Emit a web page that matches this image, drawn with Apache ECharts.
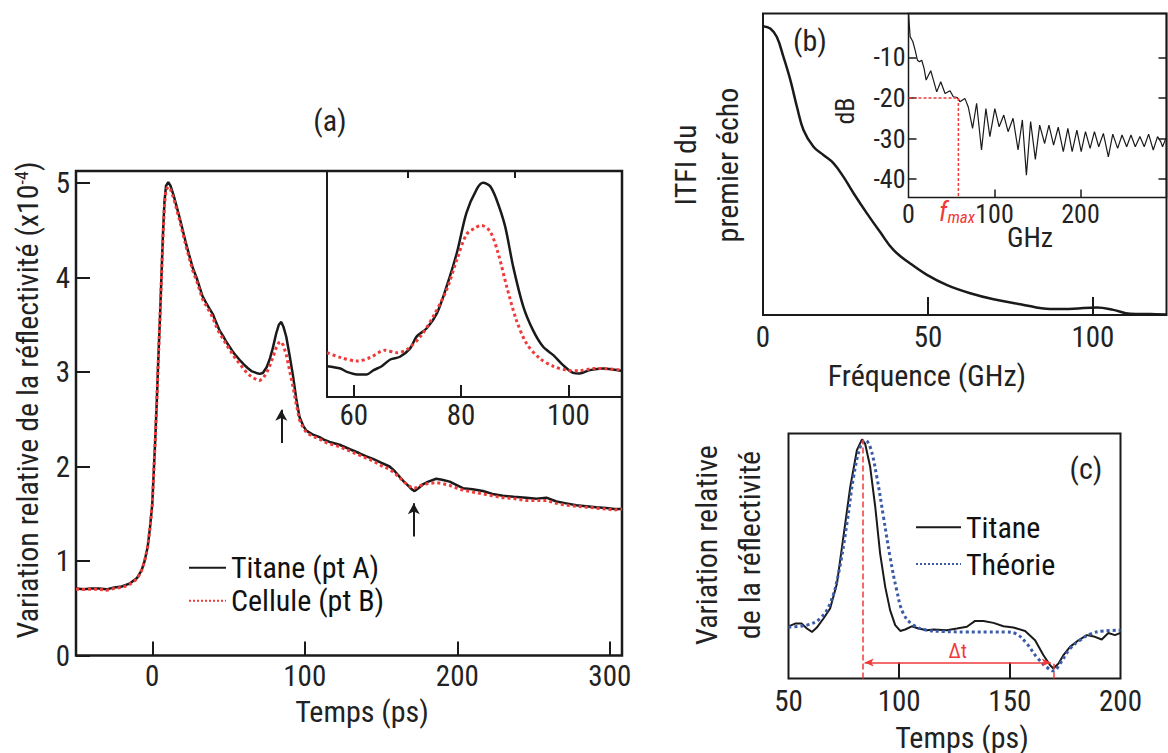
<!DOCTYPE html>
<html><head><meta charset="utf-8">
<script src="https://cdn.jsdelivr.net/npm/echarts@6/dist/echarts.min.js"></script>
<style>html,body{margin:0;padding:0;background:#fff}#chart{width:1168px;height:753px}</style>
</head><body><div id="chart"></div>
<script>
// ---------------- DATA ----------------
// (a) main: Temps (ps) vs variation relative de la réflectivité (x1e-4)
const aTime = [-50,-45,-40,-35,-30,-25,-20,-15,-10,-7,-5,-3,-1.5,0,1,2,3,4,5,6,7,8,9,10.5,12,14,16,18,20,22.3,24.5,26.6,29,31,33,35.4,37.5,39.8,42,44.1,46.5,48.5,51,53,55,57.2,60,62.7,65,68.2,70.5,72.5,75,76.9,79,81.3,83,84.6,86,87.9,90,92.2,94.4,96.6,99,101,105,109.7,113,116.3,122.8,130,135.9,140,144.7,150,155.6,159,162.2,165,167.6,170,172,174.5,177.4,181,186.2,190,195,200,203.7,210,216.8,223,229.9,237,245.2,252,258.4,265,271.5,278,284.6,291,297.7,303,308];
const aTitane = [0.71,0.70,0.71,0.71,0.70,0.72,0.73,0.76,0.82,0.90,1.00,1.15,1.35,1.60,1.95,2.30,2.70,3.15,3.55,4.00,4.45,4.80,4.97,5.01,4.97,4.87,4.75,4.63,4.50,4.35,4.22,4.10,4.00,3.90,3.80,3.73,3.67,3.61,3.52,3.44,3.38,3.32,3.26,3.21,3.17,3.13,3.08,3.04,3.01,2.99,2.98,2.99,3.05,3.13,3.25,3.41,3.50,3.53,3.48,3.37,3.18,2.97,2.72,2.52,2.43,2.38,2.34,2.31,2.28,2.26,2.23,2.18,2.14,2.11,2.08,2.04,2.00,1.95,1.89,1.84,1.80,1.76,1.74,1.77,1.81,1.84,1.87,1.86,1.84,1.80,1.77,1.76,1.74,1.71,1.69,1.68,1.67,1.66,1.67,1.63,1.61,1.59,1.58,1.57,1.56,1.55,1.55];
const aCellule = [0.70,0.70,0.70,0.70,0.69,0.71,0.72,0.75,0.81,0.90,1.00,1.15,1.35,1.60,1.95,2.30,2.70,3.15,3.55,3.98,4.42,4.76,4.93,4.96,4.93,4.84,4.72,4.60,4.47,4.32,4.19,4.07,3.97,3.87,3.77,3.70,3.64,3.57,3.48,3.41,3.35,3.29,3.23,3.18,3.13,3.09,3.03,2.98,2.95,2.92,2.91,2.93,2.99,3.06,3.15,3.26,3.31,3.32,3.28,3.18,3.02,2.85,2.66,2.49,2.41,2.36,2.32,2.29,2.26,2.24,2.21,2.16,2.12,2.09,2.06,2.01,1.97,1.93,1.88,1.84,1.80,1.78,1.77,1.79,1.81,1.82,1.83,1.82,1.80,1.77,1.75,1.73,1.71,1.69,1.67,1.66,1.64,1.64,1.64,1.61,1.59,1.58,1.57,1.56,1.55,1.54,1.55];
const aArrowTimes = [84.6, 171.5];
const aArrowFrom = [2.25, 1.26];
const aArrowTo = [2.60, 1.61];
const aXTicks = [0, 100, 200, 300];
const aYTicks = [0, 1, 2, 3, 4, 5];

// (a) inset: zoom on first echo (arbitrary units)
const insTimeTi = [55,57.5,58.7,60.6,62.4,63.7,65.2,66.8,68.6,70.5,71.7,73.6,75.5,77.3,79.2,81.0,82.9,84.1,85.4,86.6,88.2,89.7,91.6,93.4,95.3,97.2,99.0,100.9,102.1,104.0,106.5,108.3,110];
const insTitane  = [0.136,0.126,0.111,0.10,0.10,0.119,0.136,0.166,0.178,0.215,0.267,0.304,0.371,0.489,0.637,0.815,0.919,0.948,0.933,0.874,0.756,0.578,0.40,0.296,0.222,0.185,0.141,0.107,0.104,0.119,0.126,0.122,0.116];
const insTimeCe = [55,57.5,60.6,63.1,65.8,68.0,69.9,72.4,74.8,77.3,79.2,81.0,82.6,83.8,85.4,86.9,88.5,90.3,92.2,94.7,97.2,99.6,102.1,104.6,107.0,110];
const insCellule = [0.196,0.175,0.159,0.175,0.207,0.196,0.21,0.267,0.356,0.474,0.607,0.719,0.748,0.759,0.733,0.637,0.489,0.341,0.237,0.17,0.136,0.119,0.116,0.126,0.125,0.119];
const insLabelTicks = [60, 80, 100];
const insMinorTicks = [70, 90];

// (b) ITFI du premier écho vs Fréquence (GHz)
const bFreq = [0,2.2,4.2,6.2,8.3,10.3,12.3,15.3,18.4,21.4,24.4,27.5,31.5,35.5,39.6,44.6,49.7,55.8,62.8,69.9,78,87.1,94.1,101.2,106.2,111.3,117.4,122.4];
const bItfi = [0.958,0.95,0.922,0.856,0.779,0.69,0.613,0.558,0.53,0.503,0.458,0.403,0.337,0.275,0.215,0.171,0.133,0.099,0.072,0.052,0.036,0.02,0.021,0.025,0.017,0.004,0.003,0.002];
const bXTicks = [0, 50, 100];

// (b) inset: spectrum in dB
const dbFreq = [0,1.9,5,7.7,10.4,12.7,15.4,18.1,20.5,23.2,25.9,29,32.8,37.5,42.5,48.3,52.1,56.8,59.8,65.6,69.5,74.5,79.2,84.9,90,94.6,100.4,105.4,110.8,115.8,121.6,127.4,132.4,137.1,142,147.5,152.5,158.3,163.3,168.7,174.1,180,185.3,190.3,195.8,200.8,205.8,211.2,216.2,221.2,226.6,232.4,237.5,243.2,248.3,253.7,258.7,263.7,269.1,274.1,279.2,284.6,289.6,293.4,295.4,299.2];
const dbVal = [0.8,-4.9,-6.1,-8.2,-10.7,-11.1,-10.7,-12.7,-15.6,-14.4,-13.3,-15.6,-18.5,-16,-18.9,-18.2,-19.7,-19.9,-20.9,-20.1,-22.2,-27.5,-21.3,-32.8,-22.6,-29.5,-22.6,-27.1,-24.2,-28.3,-25,-32.8,-25.4,-39,-25.8,-35.1,-26.7,-31.2,-26.7,-31.6,-27.2,-33.2,-27.5,-33.2,-27.9,-33.2,-28.3,-32.4,-28.3,-32,-28.7,-34.5,-28.9,-32.4,-29.1,-32,-29.1,-32,-29.5,-32,-28.9,-32.8,-29.5,-30.8,-32,-30];
const fmaxFreq = 58;
const fmaxDb = -20;
const dbYTicks = [-40, -30, -20, -10];
const dbXLabels = [0, 100, 200];
const dbXTicks = [100, 200];

// (c) Titane vs Théorie
const cTimeTi = [50,53,56,58.3,60.6,62.8,65.8,68.8,71.9,74.8,77.9,80.9,83.2,84.6,86.9,89.2,91.4,93.7,95.9,98.2,100.5,102.7,105.7,108.7,112.5,115.5,121.5,126.1,130.6,134.3,138.1,142.6,147.1,151.6,156.9,161.4,165.2,168.2,169.7,172,174.2,177.2,181,184.8,188.5,191.5,194.5,197.5,200];
const cTitane = [0.213,0.224,0.224,0.204,0.19,0.208,0.245,0.286,0.388,0.578,0.782,0.932,0.976,0.959,0.864,0.7,0.51,0.374,0.279,0.218,0.194,0.2,0.213,0.204,0.197,0.2,0.197,0.204,0.211,0.235,0.235,0.227,0.213,0.208,0.194,0.156,0.095,0.054,0.041,0.061,0.095,0.129,0.156,0.177,0.17,0.159,0.186,0.177,0.186];
const cTimeTh = [50,58.3,64.3,68.8,72.6,76.4,79.4,82.4,84.6,86.9,89.9,92.9,95.9,98.9,101.9,106.4,112.5,120,130,140,148,153.1,157.6,162.1,166.6,169.7,172.7,177.2,181.7,186.2,192.2,200];
const cTheorie = [0.21,0.218,0.245,0.306,0.429,0.633,0.823,0.945,0.973,0.945,0.823,0.66,0.496,0.36,0.265,0.218,0.197,0.192,0.19,0.19,0.19,0.181,0.143,0.088,0.047,0.031,0.061,0.122,0.156,0.181,0.194,0.197];
const cEcho1 = 83.6, cEcho1Top = 0.976;
const cEcho2 = 169.7, cEcho2Top = 0.06;
const cArrowLevel = 0.065;
const cXLabels = [50, 100, 150, 200];
const cXTicks = [100, 150];

// ---------------- CHART ----------------
const FONT = "'Liberation Sans Narrow','Arial Narrow','Roboto Condensed',sans-serif";
const INK = '#1a1a1a';
const RED = '#f03a3a';
const BLUE = '#3b5aa8';
const zip = (xs, ys) => xs.map((x, i) => [x, ys[i]]);

function tickAxis(o) {
  return Object.assign({
    type: 'value', axisLine: {show: false, onZero: false}, splitLine: {show: false},
    axisTick: {show: true, inside: true, length: o.tickLen || 12, customValues: o.ticks, lineStyle: {color: INK, width: o.tickW || 2}},
    axisLabel: o.labels ? {show: true, customValues: o.labels, fontSize: o.fs || 29, fontFamily: FONT, color: '#222', margin: o.margin == null ? 6 : o.margin} : {show: false}
  }, o.base);
}

function txt(x, y, text, size, extra) {
  extra = extra || {};
  return {
    type: 'text', x: x, y: y, rotation: extra.rotation || 0, z: 100,
    style: Object.assign({
      text: text, fill: extra.fill || '#222', fontSize: size, fontFamily: FONT,
      fontStyle: extra.fontStyle || 'normal',
      textAlign: 'center', textVerticalAlign: 'middle', align: 'center', verticalAlign: 'middle',
      lineHeight: extra.lineHeight || size
    }, extra.style || {})
  };
}

function legendAt(name, left, top, w) {
  return {data: [name], left: left, top: top, padding: 0, itemWidth: w, itemHeight: 14,
    itemStyle: {opacity: 0}, selectedMode: false,
    textStyle: {fontFamily: FONT, fontSize: 30, color: '#111', lineHeight: 30}};
}

const chart = echarts.init(document.getElementById('chart'), null, {renderer: 'svg'});
const option = {
  animation: false,
  backgroundColor: '#fff',
  textStyle: {fontFamily: FONT},
  grid: [
    {left: 76, top: 171, width: 546, height: 484.5, show: true, borderColor: INK, borderWidth: 2.5, backgroundColor: 'transparent'},
    {left: 327, top: 171, width: 295, height: 226, show: true, borderColor: INK, borderWidth: 2, backgroundColor: 'transparent'},
    {left: 763, top: 13.5, width: 403.5, height: 301.5, show: true, borderColor: INK, borderWidth: 2, backgroundColor: 'transparent'},
    {left: 908.5, top: 13.5, width: 258, height: 184, show: true, borderColor: INK, borderWidth: 1.5, backgroundColor: 'transparent'},
    {left: 788.5, top: 433.5, width: 332, height: 245, show: true, borderColor: INK, borderWidth: 2, backgroundColor: 'transparent'}
  ],
  xAxis: [
    tickAxis({base: {gridIndex: 0, min: -50, max: 308}, ticks: aXTicks, labels: aXTicks, tickLen: 14, margin: 6}),
    tickAxis({base: {gridIndex: 1, min: 55, max: 110}, ticks: insLabelTicks, labels: insLabelTicks, tickLen: 12, margin: 3}),
    tickAxis({base: {gridIndex: 1, min: 55, max: 110}, ticks: insMinorTicks, labels: null, tickLen: 7}),
    tickAxis({base: {gridIndex: 2, min: 0, max: 122.3}, ticks: bXTicks, labels: bXTicks, tickLen: 18, margin: 7}),
    tickAxis({base: {gridIndex: 3, min: 0, max: 300}, ticks: dbXTicks, labels: dbXLabels, tickLen: 8, fs: 26, margin: 3, tickW: 1.5}),
    tickAxis({base: {gridIndex: 4, min: 50, max: 200}, ticks: cXTicks, labels: cXLabels, tickLen: 16, margin: 8})
  ],
  yAxis: [
    tickAxis({base: {gridIndex: 0, min: 0, max: 5.127}, ticks: aYTicks, labels: aYTicks, tickLen: 14, margin: 6}),
    {type: 'value', gridIndex: 1, min: 0, max: 1, show: false},
    {type: 'value', gridIndex: 2, min: 0, max: 1, show: false},
    tickAxis({base: {gridIndex: 3, min: -44.5, max: 0.8}, ticks: dbYTicks, labels: dbYTicks, tickLen: 8, fs: 26, margin: 3, tickW: 1.5}),
    tickAxis({base: {gridIndex: 3, min: -44.5, max: 0.8, position: 'right'}, ticks: dbYTicks, labels: null, tickLen: 8, tickW: 1.5}),
    {type: 'value', gridIndex: 4, min: 0, max: 1, show: false}
  ],
  legend: [
    legendAt('Titane (pt A)', 188, 552.7, 37),
    legendAt('Cellule (pt B)', 188, 585.7, 37),
    legendAt('Titane', 915, 512.3, 45),
    legendAt('Théorie', 915, 549, 45)
  ],
  series: [
    {name: 'Titane (pt A)', type: 'line', xAxisIndex: 0, yAxisIndex: 0, data: zip(aTime, aTitane),
     symbol: 'none', color: INK, lineStyle: {color: INK, width: 2.5}, z: 3,
     markLine: {silent: true, symbol: ['none', 'arrow'], symbolSize: [9, 11], label: {show: false},
       lineStyle: {color: INK, width: 2, type: 'solid'},
       data: aArrowTimes.map((t, i) => [{coord: [t, aArrowFrom[i]]}, {coord: [t, aArrowTo[i]]}])}},
    {name: 'Cellule (pt B)', type: 'line', xAxisIndex: 0, yAxisIndex: 0, data: zip(aTime, aCellule),
     symbol: 'none', color: RED, lineStyle: {color: RED, width: 3, type: 'dotted'}, z: 4},
    {name: 'inset Titane', type: 'line', xAxisIndex: 1, yAxisIndex: 1, data: zip(insTimeTi, insTitane),
     symbol: 'none', smooth: 0.3, color: INK, lineStyle: {color: INK, width: 2.5}, z: 3},
    {name: 'inset Cellule', type: 'line', xAxisIndex: 1, yAxisIndex: 1, data: zip(insTimeCe, insCellule),
     symbol: 'none', smooth: 0.3, color: RED, lineStyle: {color: RED, width: 3, type: 'dotted'}, z: 4},
    {name: 'ITFI', type: 'line', xAxisIndex: 3, yAxisIndex: 2, data: zip(bFreq, bItfi),
     symbol: 'none', smooth: 0.4, color: INK, lineStyle: {color: INK, width: 2.5}},
    {name: 'dB', type: 'line', xAxisIndex: 4, yAxisIndex: 3, data: zip(dbFreq, dbVal),
     symbol: 'none', color: INK, lineStyle: {color: INK, width: 1.2}},
    {name: 'fmax', type: 'line', xAxisIndex: 4, yAxisIndex: 3,
     data: [[0, fmaxDb], [fmaxFreq, fmaxDb], [fmaxFreq, -44.5]],
     symbol: 'none', color: RED, lineStyle: {color: RED, width: 1.5, type: [3, 2]}, z: 5},
    {name: 'Titane', type: 'line', xAxisIndex: 5, yAxisIndex: 5, data: zip(cTimeTi, cTitane),
     symbol: 'none', color: INK, lineStyle: {color: INK, width: 2}, z: 3,
     markLine: {silent: true, symbol: ['none', 'none'], label: {show: false},
       lineStyle: {color: RED, width: 1.5, type: [6, 3]},
       data: [
         [{coord: [cEcho1, 0]}, {coord: [cEcho1, cEcho1Top]}],
         [{coord: [cEcho2, 0]}, {coord: [cEcho2, cEcho2Top]}],
         [{coord: [cEcho1 + 0.8, cArrowLevel], symbol: 'arrow', symbolSize: [6, 9],
           lineStyle: {color: RED, width: 1.5, type: 'solid'},
           label: {show: true, position: 'insideMiddleTop', formatter: 'Δt', color: RED, fontSize: 20, fontFamily: FONT, distance: 2}},
          {coord: [cEcho2 - 1.2, cArrowLevel], symbol: 'arrow', symbolSize: [6, 9],
           lineStyle: {color: RED, width: 1.5, type: 'solid'}}]
       ]}},
    {name: 'Théorie', type: 'line', xAxisIndex: 5, yAxisIndex: 5, data: zip(cTimeTh, cTheorie),
     symbol: 'none', smooth: 0.4, color: BLUE, lineStyle: {color: BLUE, width: 3, type: 'dotted'}, z: 4}
  ],
  graphic: [
    txt(330, 120, '(a)', 30),
    txt(27, 400, 'Variation relative de la réflectivité (x10{sup|-4})', 30, {rotation: Math.PI / 2,
      style: {rich: {sup: {fontSize: 18, fontFamily: FONT, fill: '#222', verticalAlign: 'top', lineHeight: 30}}}}),
    txt(362, 711, 'Temps (ps)', 30),
    txt(810, 40, '(b)', 30),
    txt(706, 165, 'ITFI du\npremier écho', 30, {rotation: Math.PI / 2, lineHeight: 42}),
    txt(927, 375, 'Fréquence (GHz)', 30),
    txt(845, 111, 'dB', 26, {rotation: Math.PI / 2}),
    txt(1030, 237, 'GHz', 28),
    txt(957, 212, '{f|f}{m|max}', 26, {fill: RED, style: {rich: {
      f: {fontSize: 27, fontFamily: FONT, fontStyle: 'italic', fill: RED, verticalAlign: 'middle', lineHeight: 26},
      m: {fontSize: 17, fontFamily: FONT, fontStyle: 'italic', fill: RED, verticalAlign: 'bottom', lineHeight: 26}}}}),
    txt(1086, 468, '(c)', 30),
    txt(728, 545, 'Variation relative\nde la réflectivité', 30, {rotation: Math.PI / 2, lineHeight: 43}),
    txt(962, 737, 'Temps (ps)', 30)
  ]
};
chart.setOption(option);
</script>
</body></html>
